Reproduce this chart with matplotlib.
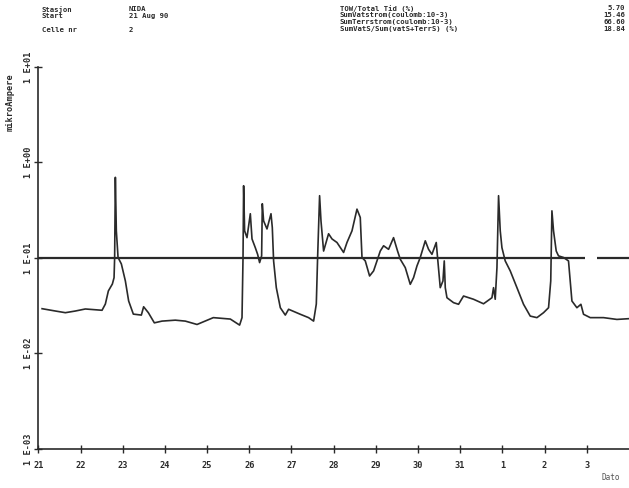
import matplotlib
matplotlib.use("Agg")
import matplotlib.pyplot as plt
import numpy as np

# time in days after 21 Aug 1990 00:00, current in microampere
days = [0.088, 0.403, 0.640, 0.877, 1.114, 1.509, 1.588, 1.659, 1.754, 1.794,
        1.808, 1.825, 1.848, 1.889, 1.967, 2.062, 2.140, 2.251, 2.441, 2.495,
        2.607, 2.749, 2.931, 3.246, 3.483, 3.761, 4.147, 4.550, 4.770, 4.827,
        4.851, 4.865, 4.889, 4.945, 5.024, 5.064, 5.142, 5.197, 5.244, 5.292,
        5.308, 5.339, 5.419, 5.514, 5.545, 5.576, 5.640, 5.735, 5.853, 5.931,
        6.209, 6.405, 6.524, 6.588, 6.619, 6.666, 6.699, 6.761, 6.879, 6.960,
        7.078, 7.235, 7.315, 7.434, 7.552, 7.630, 7.671, 7.749, 7.851, 7.946,
        8.026, 8.104, 8.183, 8.301, 8.419, 8.514, 8.578, 8.697, 8.815, 8.893,
        8.974, 9.052, 9.171, 9.249, 9.329, 9.431, 9.462, 9.526, 9.590, 9.621,
        9.645, 9.685, 9.841, 9.960, 10.078, 10.315, 10.552, 10.751, 10.789, 10.829,
        10.870, 10.908, 10.948, 10.988, 11.066, 11.185, 11.344, 11.500, 11.659, 11.818,
        11.974, 12.093, 12.145, 12.173, 12.211, 12.275, 12.329, 12.448, 12.566, 12.647,
        12.765, 12.860, 12.922, 13.081, 13.396, 13.713, 13.988]
current = [0.0294, 0.0278, 0.0267, 0.0278, 0.0292, 0.0283, 0.0329, 0.0451, 0.0533, 0.0621,
           0.101, 0.697, 0.192, 0.101, 0.0865, 0.0574, 0.0354, 0.0258, 0.0252, 0.0308,
           0.0267, 0.0209, 0.0218, 0.0223, 0.0218, 0.0201, 0.0237, 0.0229, 0.0198, 0.0237,
           0.101, 0.569, 0.192, 0.163, 0.290, 0.158, 0.128, 0.109, 0.0893, 0.105,
           0.369, 0.244, 0.201, 0.290, 0.208, 0.0930, 0.0488, 0.0301, 0.0252, 0.0290,
           0.0257, 0.0237, 0.0218, 0.0329, 0.101, 0.448, 0.244, 0.118, 0.179, 0.158,
           0.145, 0.114, 0.145, 0.192, 0.324, 0.265, 0.101, 0.093, 0.0647, 0.0731,
           0.093, 0.118, 0.134, 0.123, 0.163, 0.118, 0.0969, 0.0791, 0.0529, 0.0621,
           0.0824, 0.101, 0.151, 0.123, 0.109, 0.145, 0.101, 0.0488, 0.0574, 0.093,
           0.0488, 0.0383, 0.0340, 0.0327, 0.0399, 0.0369, 0.0331, 0.0383, 0.0488, 0.0369,
           0.0791, 0.448, 0.192, 0.128, 0.093, 0.0731, 0.0488, 0.0327, 0.0246, 0.0237,
           0.0267, 0.0301, 0.0574, 0.311, 0.192, 0.118, 0.105, 0.101, 0.093, 0.0354,
           0.0301, 0.0327, 0.0257, 0.0237, 0.0237, 0.0227, 0.0231]

day_labels = ["21", "22", "23", "24", "25", "26", "27", "28", "29", "30", "31", "1", "2", "3"]
decades = [1e-3, 1e-2, 1e-1, 1e0, 1e1]
decade_labels = ["1 E-03", "1 E-02", "1 E-01", "1 E+00", "1 E+01"]
ref_level = 0.1

header_left = [("Stasjon", "NIDA"), ("Start", "21 Aug 90"), ("", ""), ("Celle nr", "2")]
header_right = [("TOW/Total Tid (%)", "5.70"),
                ("SumVatstrom(coulomb:10-3)", "15.46"),
                ("SumTerrstrom(coulomb:10-3)", "66.60"),
                ("SumVatS/Sum(vatS+TerrS) (%)", "18.84")]

ink = "#2a2a2a"
mono = "DejaVu Sans Mono"
hsize = 5.2
step = 7.2 / 488

fig = plt.figure(figsize=(6.29, 4.88), dpi=100)
ax = fig.add_axes([0.061, 0.080, 0.939, 0.783])

ax.plot(days, current, color=ink, lw=1.2)
# reference line at 1E-01 (small break near the end, as in the plot)
ax.hlines(ref_level, 0, 12.96, color=ink, lw=1.6)
ax.hlines(ref_level, 13.25, 14, color=ink, lw=1.6)

ax.set_yscale("log")
ax.set_ylim(1e-3, 1e1)
ax.set_xlim(0, 14)
ax.set_yticks(decades)
ax.set_yticklabels(decade_labels, rotation=90, va="center", family=mono,
                   fontweight="bold", fontsize=6.2, color=ink)
ax.minorticks_off()
ax.set_xticks(range(len(day_labels)))
ax.set_xticklabels(day_labels, family=mono, fontweight="bold", fontsize=6.2, color=ink)
ax.tick_params(axis="both", direction="inout", length=6, width=1.0, color=ink, pad=6)
ax.tick_params(axis="y", pad=1)

for s in ["top", "right"]:
    ax.spines[s].set_visible(False)
for s in ["left", "bottom"]:
    ax.spines[s].set_color(ink)
    ax.spines[s].set_linewidth(1.2)

fig.text(0.016, 0.79, "mikroAmpere", rotation=90, ha="center", va="center",
         family=mono, fontweight="bold", fontsize=6.2, color=ink)
fig.text(0.985, 0.012, "Dato", ha="right", va="bottom", family=mono,
         fontsize=5.5, color="#555555")

for i, (k, v) in enumerate(header_left):
    y = 0.988 - i * step
    fig.text(0.066, y, k, ha="left", va="top", family=mono, fontweight="bold",
             fontsize=hsize, color=ink)
    fig.text(0.205, y, v, ha="left", va="top", family=mono, fontweight="bold",
             fontsize=hsize, color=ink)

for i, (k, v) in enumerate(header_right):
    y = 0.990 - i * step
    fig.text(0.540, y, k, ha="left", va="top", family=mono, fontweight="bold",
             fontsize=hsize, color=ink)
    fig.text(0.994, y, v, ha="right", va="top", family=mono, fontweight="bold",
             fontsize=hsize, color=ink)

fig.savefig("out.png", dpi=100, facecolor="white")
